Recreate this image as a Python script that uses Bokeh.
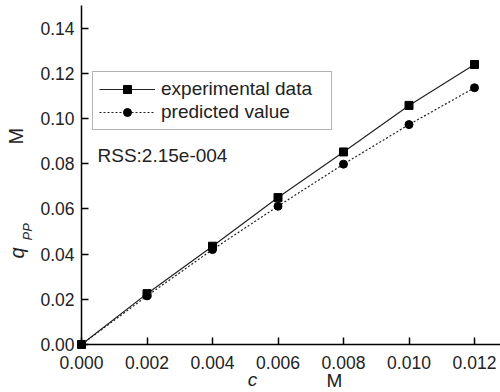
from bokeh.plotting import figure
from bokeh.models import (Range1d, FixedTicker, NumeralTickFormatter, Legend,
                          LegendItem, Label, ColumnDataSource)
from bokeh.embed import file_html
from bokeh.resources import INLINE
import math

conc = [0.0, 0.002, 0.004, 0.006, 0.008, 0.010, 0.012]
experimental = [0.0, 0.0225, 0.0435, 0.065, 0.0852, 0.1058, 0.1239]
predicted = [0.0, 0.0215, 0.042, 0.0612, 0.0798, 0.0973, 0.1136]
x_ticks = [0.000, 0.002, 0.004, 0.006, 0.008, 0.010, 0.012]
y_ticks = [0.00, 0.02, 0.04, 0.06, 0.08, 0.10, 0.12, 0.14]

FONT = "Liberation Sans"
W, H = 500, 392
# frame covers the whole canvas; axes are pinned at data zero
X0_PX, Y0_PX = 81, 344          # canvas position of the data origin (y from top)
X_PER_PX = 0.002 / 65.5
Y_PER_PX = 0.15 / 339.0

p = figure(width=W, height=H, output_backend="svg", toolbar_location=None,
           x_range=Range1d(-X0_PX * X_PER_PX, (W - X0_PX) * X_PER_PX),
           y_range=Range1d(-(H - Y0_PX) * Y_PER_PX, Y0_PX * Y_PER_PX),
           min_border=0, min_border_left=0, min_border_right=0,
           min_border_top=0, min_border_bottom=0)
p.outline_line_color = None
p.xgrid.visible = False
p.ygrid.visible = False
p.background_fill_color = "white"
p.border_fill_color = "white"

for ax in (p.xaxis[0], p.yaxis[0]):
    ax.fixed_location = 0
    ax.axis_line_width = 1.5
    ax.axis_line_color = "black"
    ax.major_tick_in = 7
    ax.major_tick_out = 0
    ax.major_tick_line_width = 1.5
    ax.minor_tick_line_color = None
    ax.major_label_text_font = FONT
    ax.major_label_text_font_size = "17.5px"
    ax.major_label_text_color = "#222222"

p.xaxis[0].bounds = (0, 0.0128)
p.yaxis[0].bounds = (0, 0.15)
p.xaxis[0].ticker = FixedTicker(ticks=x_ticks)
p.yaxis[0].ticker = FixedTicker(ticks=y_ticks)
p.xaxis[0].formatter = NumeralTickFormatter(format="0.000")
p.yaxis[0].formatter = NumeralTickFormatter(format="0.00")
p.xaxis[0].major_label_standoff = 11
p.yaxis[0].major_label_standoff = 7

src = ColumnDataSource(dict(x=conc, e=experimental, pr=predicted))
l1 = p.line("x", "e", source=src, line_color="#222222", line_width=1.2)
m1 = p.scatter("x", "e", source=src, marker="square", size=8,
               fill_color="black", line_color="black")
l2 = p.line("x", "pr", source=src, line_color="#222222", line_width=1.2,
            line_dash="2 2")
m2 = p.scatter("x", "pr", source=src, marker="circle", size=8,
               fill_color="black", line_color="black")

legend = Legend(items=[LegendItem(label="experimental data", renderers=[l1, m1]),
                       LegendItem(label="predicted value", renderers=[l2, m2])],
                location=(92, H - 130), glyph_width=56, glyph_height=20,
                label_text_font=FONT, label_text_font_size="19px",
                label_text_color="#222222", label_standoff=6, spacing=1,
                label_height=20, label_width=164, padding=6, margin=0,
                border_line_color="#666666",
                border_line_width=1.5, background_fill_alpha=1.0)
p.add_layout(legend, "center")


def lab(xp, yp, text, size, italic=False, angle=0.0, align="left"):
    # xp, yp: canvas pixels from top-left; screen units are frame-relative
    return Label(x=xp, y=H - yp, x_units="screen", y_units="screen",
                 text=text, text_font=FONT,
                 text_font_style="italic" if italic else "normal",
                 text_font_size=size, text_color="#222222", angle=angle,
                 text_baseline="middle", text_align=align)


p.add_layout(lab(97, 155, "RSS:2.15e-004", "19px"))
# y axis label pieces (rotated, reading bottom to top)
p.add_layout(lab(16, 258, "q", "20px", italic=True, angle=math.pi / 2))
p.add_layout(lab(27, 240, "PP", "13px", italic=True, angle=math.pi / 2))
p.add_layout(lab(15, 144, "M", "20px", angle=math.pi / 2))
# x axis label pieces
p.add_layout(lab(252, 379, "c", "19px", italic=True, align="center"))
p.add_layout(lab(334, 380, "M", "19px", align="center"))

open("out.html", "w").write(file_html(p, INLINE))
